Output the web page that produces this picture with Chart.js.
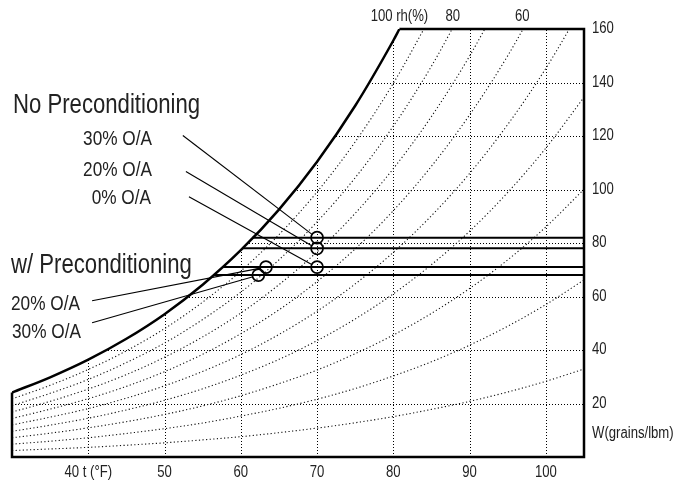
<!DOCTYPE html>
<html>
<head>
<meta charset="utf-8">
<script src="https://cdn.jsdelivr.net/npm/chart.js@4.4.0/dist/chart.umd.min.js"></script>
<style>
  html, body { margin: 0; padding: 0; background: #fff; }
  #psychroChart { display: block; }
</style>
</head>
<body>
<canvas id="psychroChart" width="684" height="480"></canvas>
<script>
// dry bulb temperature (F) / humidity ratio W (grains per lbm of dry air)
const tempF = [30, 35, 40, 45, 50, 55, 60, 65, 70, 75, 80, 85, 90, 95, 100, 105];

// saturation curve (100% rh), ends where it meets the top of the chart
const satT = [30, 35, 40, 45, 50, 55, 60, 65, 70, 75, 80, 80.8];
const satW = [24.1, 29.8, 36.4, 44.2, 53.4, 64.4, 77.3, 92.5, 110.4, 131.3, 155.7, 160];

// constant relative humidity curves, read along tempF
const rh90 = [21.7, 26.8, 32.7, 39.7, 48.0, 57.9, 69.5, 83.1, 99.1, 117.8, 139.7, 165.1];
const rh80 = [19.2, 23.8, 29.0, 35.3, 42.6, 51.4, 61.6, 73.7, 87.9, 104.4, 123.7, 146.1, 172.2];
const rh70 = [16.8, 20.8, 25.4, 30.8, 37.3, 44.9, 53.8, 64.4, 76.7, 91.1, 107.8, 127.3, 149.9, 176.0];
const rh60 = [14.4, 17.9, 21.8, 26.4, 31.9, 38.4, 46.1, 55.0, 65.6, 77.8, 92.1, 108.7, 127.9, 150.0, 175.5];
const rh50 = [12.0, 14.9, 18.1, 22.0, 26.6, 32.0, 38.3, 45.8, 54.5, 64.7, 76.5, 90.2, 106.0, 124.3, 145.3, 169.4];
const rh40 = [9.6, 11.9, 14.5, 17.6, 21.2, 25.5, 30.6, 36.5, 43.5, 51.6, 61.0, 71.9, 84.4, 98.9, 115.5, 134.5];
const rh30 = [7.2, 8.9, 10.9, 13.2, 15.9, 19.1, 22.9, 27.4, 32.5, 38.6, 45.6, 53.7, 63.0, 73.7, 86.0, 100.1];
const rh20 = [4.8, 5.9, 7.2, 8.8, 10.6, 12.7, 15.3, 18.2, 21.6, 25.6, 30.3, 35.6, 41.8, 48.9, 57.0, 66.2];
const rh10 = [2.4, 3.0, 3.6, 4.4, 5.3, 6.4, 7.6, 9.1, 10.8, 12.8, 15.1, 17.8, 20.8, 24.3, 28.3, 32.9];
const rhCurves = [rh90, rh80, rh70, rh60, rh50, rh40, rh30, rh20, rh10];

const xTicks = [40, 50, 60, 70, 80, 90, 100];
const xTickLabels = ['40 t (°F)', '50', '60', '70', '80', '90', '100'];
const yTicks = [20, 40, 60, 80, 100, 120, 140, 160];
const rhLabels = ['100 rh(%)', '80', '60'];
const rhLabelT = [80.8, 87.8, 96.9];

// supply air states: horizontal lines from the saturation curve
const stateW = [82, 78, 71, 68];
const stateStartT = [61.5, 60.2, 57.6, 56.4];

// marked states (no preconditioning 30/20/0 %, preconditioning 20/30 %)
const circleT = [70, 70, 70, 63.3, 62.3];
const circleW = [82, 78, 71, 71, 68];

// leader lines from the labels to the circles
const leaderFromT = [52.4, 52.8, 53.2, 40.5, 40.5];
const leaderFromW = [120.2, 106.7, 97.3, 58.4, 50.2];
const leaderToT = [69.3, 69.3, 69.3, 62.6, 61.6];
const leaderToW = [83.3, 79.0, 72.0, 70.6, 67.4];

const tMin = 30, tMax = 105, wMin = 0, wMax = 160;

// condensed look: Liberation Sans squeezed horizontally
const fontFamily = "'Liberation Sans', Arial, sans-serif";
const squeeze = 0.82;
const textColor = '#222';

function pts(xs, ys) {
    return ys.map((y, i) => ({ x: xs[i], y: y }));
}

function narrowText(ctx, txt, x, y, size, align) {
    ctx.save();
    ctx.font = size + 'px ' + fontFamily;
    ctx.textAlign = 'left';
    const w = ctx.measureText(txt).width * squeeze;
    let left = x;
    if (align === 'right') left = x - w;
    if (align === 'center') left = x - w / 2;
    ctx.translate(left, y);
    ctx.scale(squeeze, 1);
    ctx.fillText(txt, 0, 0);
    ctx.restore();
}

const datasets = [];

datasets.push({
    data: pts(circleT, circleW),
    showLine: false,
    pointRadius: 6,
    pointBorderWidth: 1.7,
    pointBorderColor: '#000',
    pointBackgroundColor: 'rgba(0,0,0,0)'
});

leaderFromT.forEach((t, i) => {
    datasets.push({
        data: [{ x: t, y: leaderFromW[i] }, { x: leaderToT[i], y: leaderToW[i] }],
        showLine: true,
        borderColor: '#000',
        borderWidth: 1.1
    });
});

stateW.forEach((w, i) => {
    datasets.push({
        data: [{ x: stateStartT[i], y: w }, { x: tMax, y: w }],
        showLine: true,
        borderColor: '#000',
        borderWidth: 2
    });
});

// chart outline outside the saturation curve
datasets.push({
    data: [
        { x: tMin, y: satW[0] }, { x: tMin, y: wMin }, { x: tMax, y: wMin },
        { x: tMax, y: wMax }, { x: satT[satT.length - 1], y: wMax }
    ],
    showLine: true,
    borderColor: '#000',
    borderWidth: 2.5,
    borderJoinStyle: 'miter',
    clip: false
});

// saturation curve, white above it hides the grid
datasets.push({
    data: pts(satT, satW),
    showLine: true,
    borderColor: '#000',
    borderWidth: 2.5,
    cubicInterpolationMode: 'monotone',
    fill: 'end',
    backgroundColor: '#fff'
});

rhCurves.forEach(curve => {
    datasets.push({
        data: pts(tempF, curve),
        showLine: true,
        borderColor: '#111',
        borderWidth: 1.1,
        borderDash: [1.2, 2.4],
        cubicInterpolationMode: 'monotone'
    });
});

const gridPlugin = {
    id: 'psyGrid',
    beforeDatasetsDraw(chart) {
        const { ctx, chartArea: a, scales: { x, y } } = chart;
        ctx.save();
        ctx.strokeStyle = '#000';
        ctx.lineWidth = 1;
        ctx.setLineDash([1, 2]);
        xTicks.forEach(v => {
            const px = Math.round(x.getPixelForValue(v)) + 0.5;
            ctx.beginPath();
            ctx.moveTo(px, a.bottom);
            ctx.lineTo(px, a.top);
            ctx.stroke();
        });
        yTicks.slice(0, -1).forEach(v => {
            const py = Math.round(y.getPixelForValue(v)) + 0.5;
            ctx.beginPath();
            ctx.moveTo(a.left, py);
            ctx.lineTo(a.right, py);
            ctx.stroke();
        });
        ctx.restore();
    }
};

const textPlugin = {
    id: 'psyText',
    afterDraw(chart) {
        const { ctx, chartArea: a, scales: { x, y } } = chart;
        ctx.save();
        ctx.fillStyle = textColor;
        ctx.textBaseline = 'alphabetic';

        narrowText(ctx, 'No Preconditioning', 13, 113, 27, 'left');
        narrowText(ctx, 'w/ Preconditioning', 11, 273, 27, 'left');

        narrowText(ctx, '30% O/A', 152, 145, 21, 'right');
        narrowText(ctx, '20% O/A', 152, 175.5, 21, 'right');
        narrowText(ctx, '0% O/A', 151, 204, 21, 'right');
        narrowText(ctx, '20% O/A', 11, 310, 21, 'left');
        narrowText(ctx, '30% O/A', 12, 338, 21, 'left');

        // axis tick labels
        xTicks.forEach((v, i) => {
            narrowText(ctx, xTickLabels[i], x.getPixelForValue(v), a.bottom + 20, 16, 'center');
        });
        yTicks.forEach(v => {
            narrowText(ctx, String(v), a.right + 8, y.getPixelForValue(v) + 4, 16, 'left');
        });
        narrowText(ctx, 'W(grains/lbm)', a.right + 8, y.getPixelForValue(9) + 5.5, 16, 'left');

        // rh labels along the top edge
        rhLabels.forEach((txt, i) => {
            narrowText(ctx, txt, x.getPixelForValue(rhLabelT[i]), a.top - 8, 16, 'center');
        });
        ctx.restore();
    }
};

const ctx = document.getElementById('psychroChart').getContext('2d');
new Chart(ctx, {
    type: 'scatter',
    data: { datasets: datasets },
    options: {
        responsive: false,
        animation: false,
        events: [],
        layout: { padding: { left: 12, top: 29, right: 0, bottom: 0 } },
        plugins: {
            legend: { display: false },
            tooltip: { enabled: false },
            colors: { enabled: false }
        },
        elements: { point: { radius: 0 } },
        scales: {
            x: {
                type: 'linear',
                min: tMin,
                max: tMax,
                grid: { display: false, drawTicks: false },
                border: { display: false },
                ticks: { display: false },
                afterFit: s => { s.height = 23; }
            },
            y: {
                type: 'linear',
                position: 'right',
                min: wMin,
                max: wMax,
                grid: { display: false, drawTicks: false },
                border: { display: false },
                ticks: { display: false },
                afterFit: s => { s.width = 100; }
            }
        }
    },
    plugins: [gridPlugin, textPlugin]
});
</script>
</body>
</html>
